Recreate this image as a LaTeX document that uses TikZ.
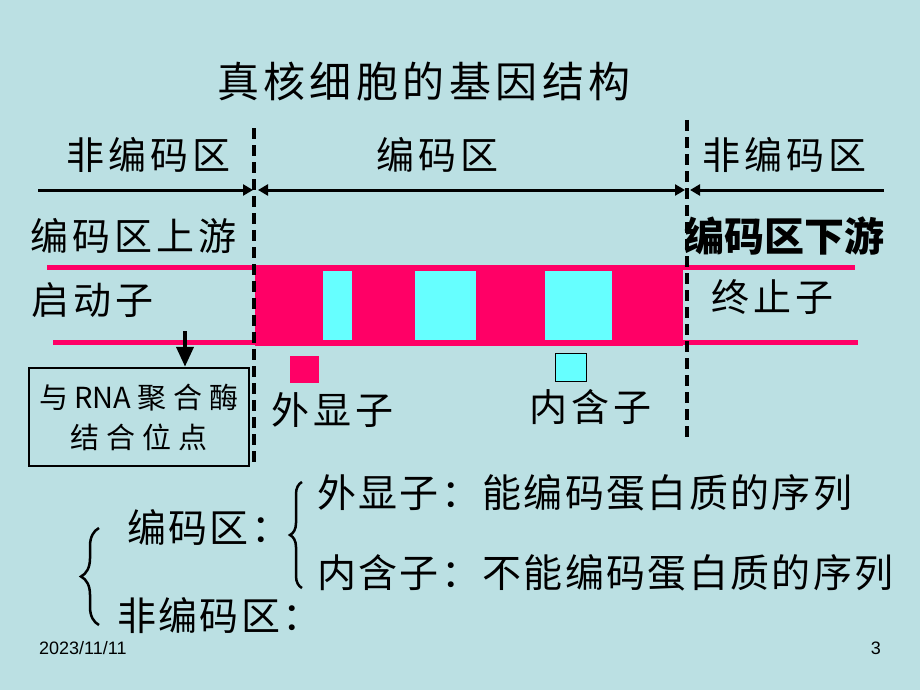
\documentclass[tikz,border=0pt]{standalone}
\usepackage{fontspec}
\usetikzlibrary{arrows.meta,decorations.pathreplacing}
\newfontfamily\cjk[LetterSpace=10.5]{Noto Sans CJK SC}
\newfontfamily\cjkn[LetterSpace=6]{Noto Sans CJK SC}
\newfontfamily\cjkw[LetterSpace=24]{Noto Sans CJK SC}
\newfontfamily\cjkp{Noto Sans CJK SC}
\newfontfamily\latin{Liberation Sans}
\definecolor{bg}{HTML}{BBE0E3}
\definecolor{exon}{HTML}{FF0066}
\definecolor{intron}{HTML}{66FFFF}
\tikzset{
  big/.style={inner sep=0pt, anchor=west, font=\cjk\fontsize{38}{42}\selectfont},
  note/.style={inner sep=0pt, anchor=west, font=\cjkn\fontsize{39}{44}\selectfont},
  dim/.style={line width=3pt, -{Triangle[length=10pt,width=11pt]}},
  cut/.style={line width=3.5pt, dash pattern=on 11pt off 6pt},
  curly/.style={line width=2.5pt, decorate},
}
\begin{document}
\begin{tikzpicture}[x=1pt,y=-1pt]
  \useasboundingbox (0,0) rectangle (920,690);
  \fill[bg] (0,0) rectangle (920,690);
  % Gene band
  \fill[exon] (47,265) rectangle (855,270);
  \fill[exon] (53,340) rectangle (858,345);
  \fill[exon] (255,265) rectangle (683,346);
  \foreach \a/\b in {323/352,415/476,545/612} {
    \fill[intron] (\a,271) rectangle (\b,340);
  }
  % Keys
  \fill[exon] (290,356) rectangle (319,383);
  \draw[fill=intron, line width=0.8pt] (555,353) rectangle (586,381);
  % Borders
  \coordinate (cutLtop) at (254,128);
  \coordinate (cutLbot) at (254,463);
  \coordinate (cutRtop) at (687,120);
  \coordinate (cutRbot) at (687,440);
  \draw[cut] (cutLtop) -- (cutLbot);
  \draw[cut] (cutRtop) -- (cutRbot);
  \coordinate (farL) at (38,190);
  \coordinate (farR) at (884,190);
  \draw[dim] (farL) -- (253,190);
  \draw[dim, {Triangle[length=10pt,width=11pt]}-{Triangle[length=10pt,width=11pt]}] (258,190) -- (685,190);
  \draw[dim] (farR) -- (690,190);
  % Labels
  \node[inner sep=0pt, anchor=west, font=\cjk\fontsize{42}{46}\selectfont] (title) at (217,82) {真核细胞的基因结构};
  \node[big] (nonL) at (66,155) {非编码区};
  \node[big] (code) at (376,155) {编码区};
  \node[big] (nonR) at (702,155) {非编码区};
  \node[big] (up) at (30,236) {编码区上游};
  \node[inner sep=0pt, anchor=west, font=\cjkp\bfseries\fontsize{40}{44}\selectfont] (down) at (684,236) {编码区下游};
  \node[big] (prom) at (31,300) {启动子};
  \node[big] (term) at (711,297) {终止子};
  \node[big] (exlab) at (271,410) {外显子};
  \node[big] (inlab) at (529,407) {内含子};
  \node[draw, line width=2.5pt, minimum width=220pt, minimum height=98pt, inner sep=0pt,
        align=center, font=\cjkw\fontsize{29}{40}\selectfont] (site) at (139,417)
        {与\hspace{6pt}{\cjkp RNA}\hspace{6pt}聚合酶\\结合位点};
  \coordinate (bind) at (185,331);
  \draw[line width=4pt, -{Triangle[length=20pt,width=17pt]}] (bind) -- (bind |- site.north);
  % Summary
  \node[note] (cod) at (127,527) {编码区：};
  \node[note] (ex) at (317,493) {外显子：能编码蛋白质的序列};
  \node[note] (in) at (317,573) {内含子：不能编码蛋白质的序列};
  \node[note] (nonc) at (117,616) {非编码区：};
  \coordinate (smallbot) at (302,588);
  \coordinate (smalltop) at (302,482);
  \draw[curly, decoration={brace, amplitude=12pt}] (smallbot) -- (smalltop);
  \coordinate (bigbot) at (99,625);
  \coordinate (bigtop) at (99,528);
  \draw[curly, decoration={brace, amplitude=18pt}] (bigbot) -- (bigtop);
  % Footer
  \node[inner sep=0pt, anchor=west, font=\latin\fontsize{18}{20}\selectfont] (date) at (39,648) {2023/11/11};
  \node[inner sep=0pt, anchor=east, font=\latin\fontsize{18}{20}\selectfont] (page) at (881,648) {3};
\end{tikzpicture}
\end{document}
